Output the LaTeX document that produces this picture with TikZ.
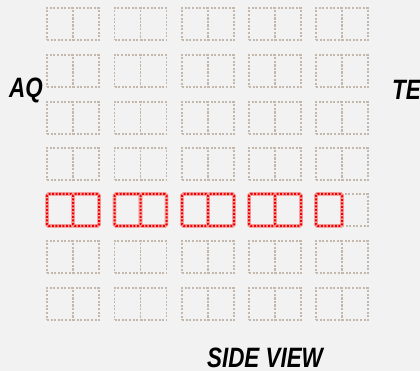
\documentclass[tikz,border=0pt]{standalone}
\usepackage{fontspec}
\setmainfont{Liberation Sans}
\definecolor{bg}{HTML}{F2F2F2}
\definecolor{seatgray}{HTML}{C4B8AC}
\definecolor{seatred}{HTML}{F20000}
\definecolor{halo}{HTML}{F4A6A6}
\tikzset{
  seat/.style={draw=seatgray, line width=1.8pt, dash pattern=on 2pt off 1.6pt, minimum width=26pt, minimum height=32pt, inner sep=0pt, outer sep=0pt},
  redseat/.style={draw=halo, line width=3.6pt, rounded corners=1.5pt, minimum width=26pt, minimum height=32pt, inner sep=0pt, outer sep=0pt,
    postaction={draw=seatred, line width=2pt, dash pattern=on 2pt off 1.5pt}},
  lbl/.style={font=\fontsize{28}{28}\selectfont\bfseries\itshape, inner sep=0pt}
}
\begin{document}
\begin{tikzpicture}[x=1pt,y=-1pt]
\useasboundingbox[fill=bg] (0,0) rectangle (420,371);
\foreach \r/\ry in {1/8,2/55,3/102,4/148,5/194,6/241,7/288}{
  \foreach \c/\cx in {1/47,2/114.5,3/182,4/249,5/316}{
    \ifnum\r=5
      \node[redseat, anchor=north west] (s\r-\c-l) at (\cx,\ry) {};
      \ifnum\c=5
        \node[seat, anchor=north west] (s\r-\c-r) at (\cx+26,\ry) {};
      \else
        \node[redseat, anchor=north west] (s\r-\c-r) at (\cx+26,\ry) {};
      \fi
    \else
      \node[seat, anchor=north west] (s\r-\c-l) at (\cx,\ry) {};
      \node[seat, anchor=north west] (s\r-\c-r) at (\cx+26,\ry) {};
    \fi
  }
}
% redraw red seat 5-5 left on top of gray right
\node[redseat, anchor=north west] (s5-5-lx) at (316,194) {};
\node[lbl] (aq) at (26,90) {\scalebox{0.8}[1]{AQ}};
\node[lbl, anchor=west] (te) at (392,90) {\scalebox{0.8}[1]{TE}};
\node[lbl] (sv) at (265,358) {\scalebox{0.8}[1]{SIDE VIEW}};
\end{tikzpicture}
\end{document}
